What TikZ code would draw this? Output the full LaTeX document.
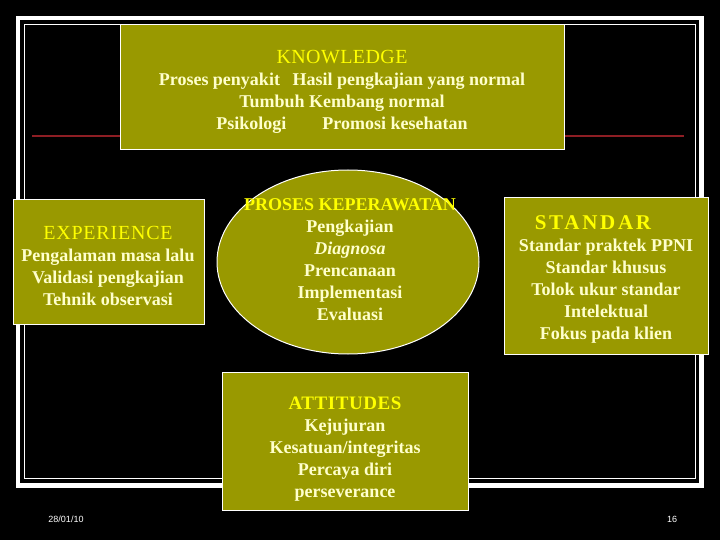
\documentclass[tikz,border=0pt]{standalone}
\usepackage{fontspec}
\setmainfont{Liberation Serif}
\newfontfamily\smallsans{Liberation Sans}
\usetikzlibrary{shapes.geometric}
\definecolor{boxolive}{HTML}{999900}
\definecolor{titley}{HTML}{FFFF00}
\definecolor{bodyc}{HTML}{FFFFCC}
\definecolor{redline}{HTML}{8E1E24}
\begin{document}
\begin{tikzpicture}[x=1pt,y={(0pt,-1pt)},
  panel/.style={draw=white, line width=1pt, fill=boxolive, inner sep=0pt},
  txt/.style={align=center, inner sep=0pt, text=bodyc,
    font=\fontsize{18}{22}\selectfont\bfseries},
  foot/.style={text=white, inner sep=0pt, font=\smallsans\fontsize{9}{10}\selectfont}]
\useasboundingbox (0,0) rectangle (720,540);
\fill[black] (0,0) rectangle (720,540);
% frame
\draw[white, line width=4.5pt] (18,18) rectangle (701.5,485.5);
\draw[white, line width=1pt] (24.5,24.5) rectangle (695.5,478.5);
% red rule
\coordinate (rl) at (32,136);
\coordinate (rr) at (684,136);
\draw[redline, line width=1.2pt] (rl) -- (rr);
% panels
\node[panel, minimum width=444, minimum height=125] (know) at (342,87.5) {};
\node[panel, minimum width=191, minimum height=124] (exp) at (108.5,262) {};
\node[panel, ellipse, minimum width=262, minimum height=184] (proc) at (348,262) {};
\node[panel, minimum width=204, minimum height=156] (std) at (606,276) {};
\node[panel, minimum width=246, minimum height=138] (att) at (345,441) {};
% texts
\node[txt] (knowt) at (342,92) {{\color{titley}\mdseries\fontsize{20}{22}\selectfont\addfontfeature{LetterSpace=2}KNOWLEDGE}\\
  Proses penyakit\hspace{0.7em}Hasil pengkajian yang normal\\
  Tumbuh Kembang normal\\
  Psikologi\hspace{2em}Promosi kesehatan};
\node[txt] (expt) at (108,266) {{\color{titley}\mdseries\fontsize{20}{22}\selectfont\addfontfeature{LetterSpace=4}EXPERIENCE}\\
  Pengalaman masa lalu\\ Validasi pengkajian\\ Tehnik observasi};
\node[txt] (proct) at (350,260) {{\color{titley}PROSES KEPERAWATAN}\\
  Pengkajian\\ \textit{Diagnosa}\\ Prencanaan\\ Implementasi\\ Evaluasi};
\node[txt] (stdt) at (606,279) {{\color{titley}\fontsize{21}{22}\selectfont\addfontfeature{LetterSpace=13}STANDAR}\hspace{26pt}\mbox{}\\
  Standar praktek PPNI\\ Standar khusus\\ Tolok ukur standar\\ Intelektual\\ Fokus pada klien};
\node[txt] (attt) at (345,449) {{\color{titley}\fontsize{19}{22}\selectfont\addfontfeature{LetterSpace=3}ATTITUDES}\\
  Kejujuran\\ Kesatuan/integritas\\ Percaya diri\\ perseverance};
% footer
\node[foot] (date) at (66,519) {28/01/10};
\node[foot] (page) at (672,519) {16};
\end{tikzpicture}
\end{document}
